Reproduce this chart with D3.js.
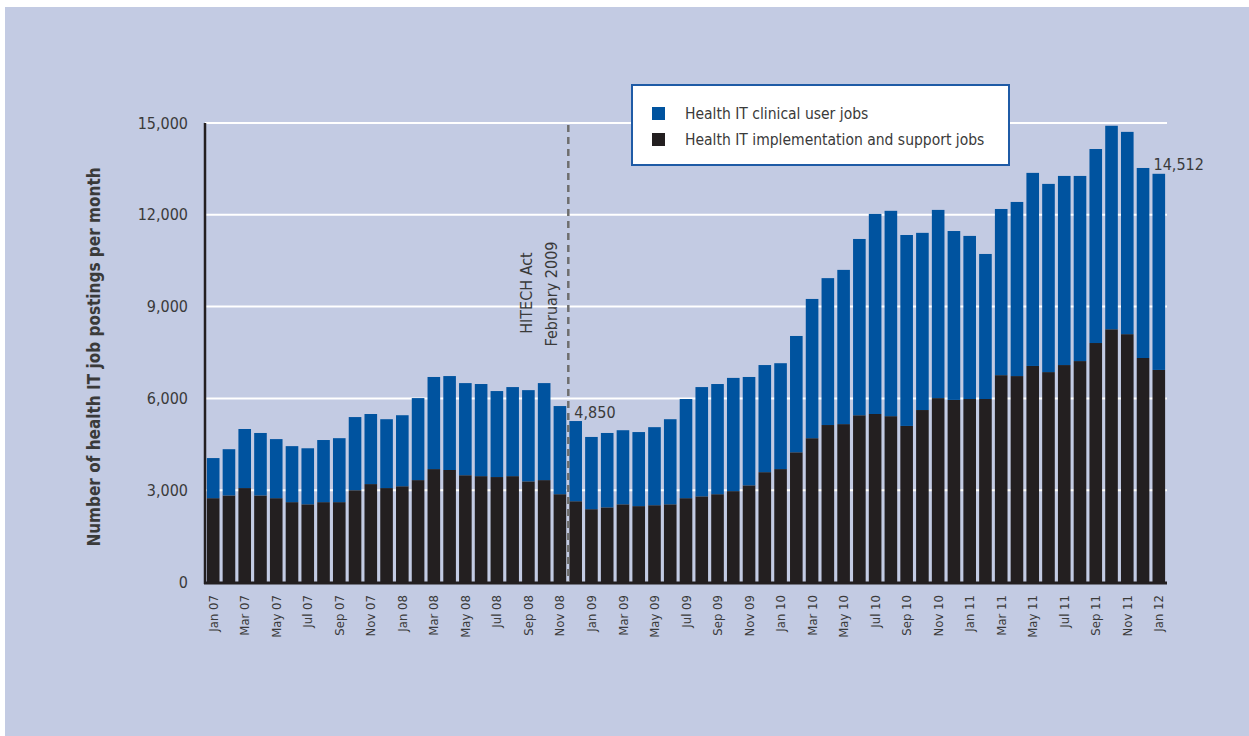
<!DOCTYPE html>
<html>
<head>
<meta charset="utf-8">
<script src="https://cdn.jsdelivr.net/npm/d3@7"></script>
<style>
  html, body { margin: 0; padding: 0; background: #ffffff; }
  svg { display: block; }
  text { font-family: "Liberation Sans Narrow", "DejaVu Sans Condensed", "Roboto Condensed", sans-serif; fill: #3a3a3a; }
</style>
</head>
<body>
<svg id="chart" width="1249" height="736"></svg>
<script>
// ---- data ----
const months = [];
const monthNames = ["Jan","Feb","Mar","Apr","May","Jun","Jul","Aug","Sep","Oct","Nov","Dec"];
const yearsShort = ["07","08","09","10","11","12"];
yearsShort.forEach((yy, yi) => {
  monthNames.forEach(m => { if (!(yi === 5 && m !== "Jan")) months.push(m + " " + yy); });
});

const totalJobs = [
  4050, 4340, 5000, 4870, 4670, 4440, 4370, 4640, 4700, 5390, 5490, 5320,
  5450, 6010, 6700, 6730, 6500, 6470, 6240, 6370, 6270, 6500, 5750, 5260,
  4740, 4870, 4960, 4900, 5060, 5320, 5980, 6370, 6470, 6670, 6700, 7090,
  7150, 8040, 9250, 9930, 10200, 11210, 12030, 12130, 11340, 11410, 12160, 11470,
  11310, 10720, 12190, 12420, 13370, 13010, 13270, 13270, 14150, 14910, 14710, 13530,
  13340
];
const implementationJobs = [
  2740, 2830, 3070, 2830, 2740, 2610, 2540, 2610, 2610, 3000, 3200, 3070,
  3130, 3330, 3690, 3660, 3490, 3460, 3430, 3460, 3290, 3330, 2870, 2640,
  2380, 2440, 2540, 2480, 2510, 2540, 2740, 2800, 2870, 2970, 3160, 3590,
  3690, 4240, 4700, 5130, 5160, 5450, 5490, 5420, 5100, 5620, 6010, 5950,
  5980, 5980, 6760, 6730, 7060, 6860, 7090, 7220, 7810, 8260, 8100, 7320,
  6930
];
const clinicalJobs = totalJobs.map((t, i) => t - implementationJobs[i]);

const yTicks = [0, 3000, 6000, 9000, 12000, 15000];
const seriesNames = ["Health IT clinical user jobs", "Health IT implementation and support jobs"];
const seriesColors = ["#00539f", "#231f20"];
const yTitle = "Number of health IT job postings per month";
const eventLabel = ["HITECH Act", "February 2009"];
const eventAfter = "Nov 08";
const annotations = [{ month: "Dec 08", text: "4,850" }, { month: "Jan 12", text: "14,512" }];

// ---- layout ----
const svg = d3.select("#chart");
const plotL = 205, plotR = 1167, plotT = 123, plotB = 582;
const FONT = "'Liberation Sans Narrow', 'DejaVu Sans Condensed', sans-serif";

svg.append("rect").attr("x", 5).attr("y", 7).attr("width", 1244).attr("height", 729).attr("fill", "#c3cbe3");

const x = d3.scaleBand().domain(months).range([plotL, plotR]).paddingInner(0.2).paddingOuter(0.12);
const y = d3.scaleLinear().domain([0, 15000]).range([plotB, plotT]);

// gridlines
svg.append("g").selectAll("line").data(yTicks.filter(d => d > 0)).join("line")
  .attr("x1", plotL).attr("x2", plotR)
  .attr("y1", d => y(d)).attr("y2", d => y(d))
  .attr("stroke", "#ffffff").attr("stroke-width", 2);

// stacked data
const rows = months.map((m, i) => ({ month: m, impl: implementationJobs[i], clin: clinicalJobs[i] }));
const stack = d3.stack().keys(["impl", "clin"])(rows);

svg.append("g").selectAll("g").data(stack).join("g")
  .attr("fill", (d, i) => i === 0 ? seriesColors[1] : seriesColors[0])
  .selectAll("rect").data(d => d).join("rect")
  .attr("x", d => x(d.data.month))
  .attr("width", x.bandwidth())
  .attr("y", d => y(d[1]))
  .attr("height", d => y(d[0]) - y(d[1]));

// axes lines
svg.append("line").attr("x1", plotL).attr("x2", plotL).attr("y1", plotT).attr("y2", plotB + 2)
  .attr("stroke", "#231f20").attr("stroke-width", 2.5);
svg.append("line").attr("x1", plotL - 1).attr("x2", plotR).attr("y1", plotB + 1).attr("y2", plotB + 1)
  .attr("stroke", "#231f20").attr("stroke-width", 3);

// y axis labels
const yAxis = d3.axisLeft(y).tickValues(yTicks).tickSize(0).tickPadding(17).tickFormat(d3.format(","));
const gy = svg.append("g").attr("transform", `translate(${plotL},0)`).call(yAxis);
gy.select(".domain").remove();
gy.selectAll("text").attr("font-size", 16).attr("fill", "#3a3a3a").attr("font-family", FONT);

// x axis labels (every other month)
const xAxis = d3.axisBottom(x).tickValues(months.filter((m, i) => i % 2 === 0)).tickSize(0).tickPadding(0);
const gx = svg.append("g").attr("transform", `translate(0,${plotB})`).call(xAxis);
gx.select(".domain").remove();
gx.selectAll("text")
  .attr("font-size", 13).attr("fill", "#3a3a3a").attr("font-family", FONT)
  .attr("text-anchor", "end").attr("dy", "0.35em")
  .attr("transform", "translate(0,13) rotate(-90)").attr("x", 0).attr("y", 0);

// y title
svg.append("text").attr("transform", "translate(100,357) rotate(-90)")
  .attr("text-anchor", "middle").attr("font-size", 17).attr("font-weight", "bold")
  .attr("fill", "#2a2a2a").text(yTitle);

// event line
const ex = x(eventAfter) + x.bandwidth() + (x.step() - x.bandwidth()) / 2 + 0.5;
svg.append("line").attr("x1", ex).attr("x2", ex).attr("y1", plotT + 2).attr("y2", plotB)
  .attr("stroke", "#6e6e6e").attr("stroke-width", 2.5).attr("stroke-dasharray", "7,5");
svg.append("text").attr("transform", `translate(${ex - 36},293) rotate(-90)`)
  .attr("text-anchor", "middle").attr("font-size", 16).text(eventLabel[0]);
svg.append("text").attr("transform", `translate(${ex - 11},294) rotate(-90)`)
  .attr("text-anchor", "middle").attr("font-size", 16).text(eventLabel[1]);

// annotations
svg.append("text").attr("x", x(annotations[0].month) + 5).attr("y", 418)
  .attr("font-size", 16).text(annotations[0].text);
svg.append("text").attr("x", x(annotations[1].month) + 1).attr("y", 170)
  .attr("font-size", 16).text(annotations[1].text);

// legend
const lg = svg.append("g");
lg.append("rect").attr("x", 632).attr("y", 85).attr("width", 377).attr("height", 80)
  .attr("fill", "#ffffff").attr("stroke", "#1f5ba6").attr("stroke-width", 2);
seriesNames.forEach((name, i) => {
  lg.append("rect").attr("x", 652).attr("y", 107 + i * 26).attr("width", 13).attr("height", 13)
    .attr("fill", seriesColors[i]);
  lg.append("text").attr("x", 685).attr("y", 119 + i * 26).attr("font-size", 15.5).text(name);
});
</script>
</body>
</html>
